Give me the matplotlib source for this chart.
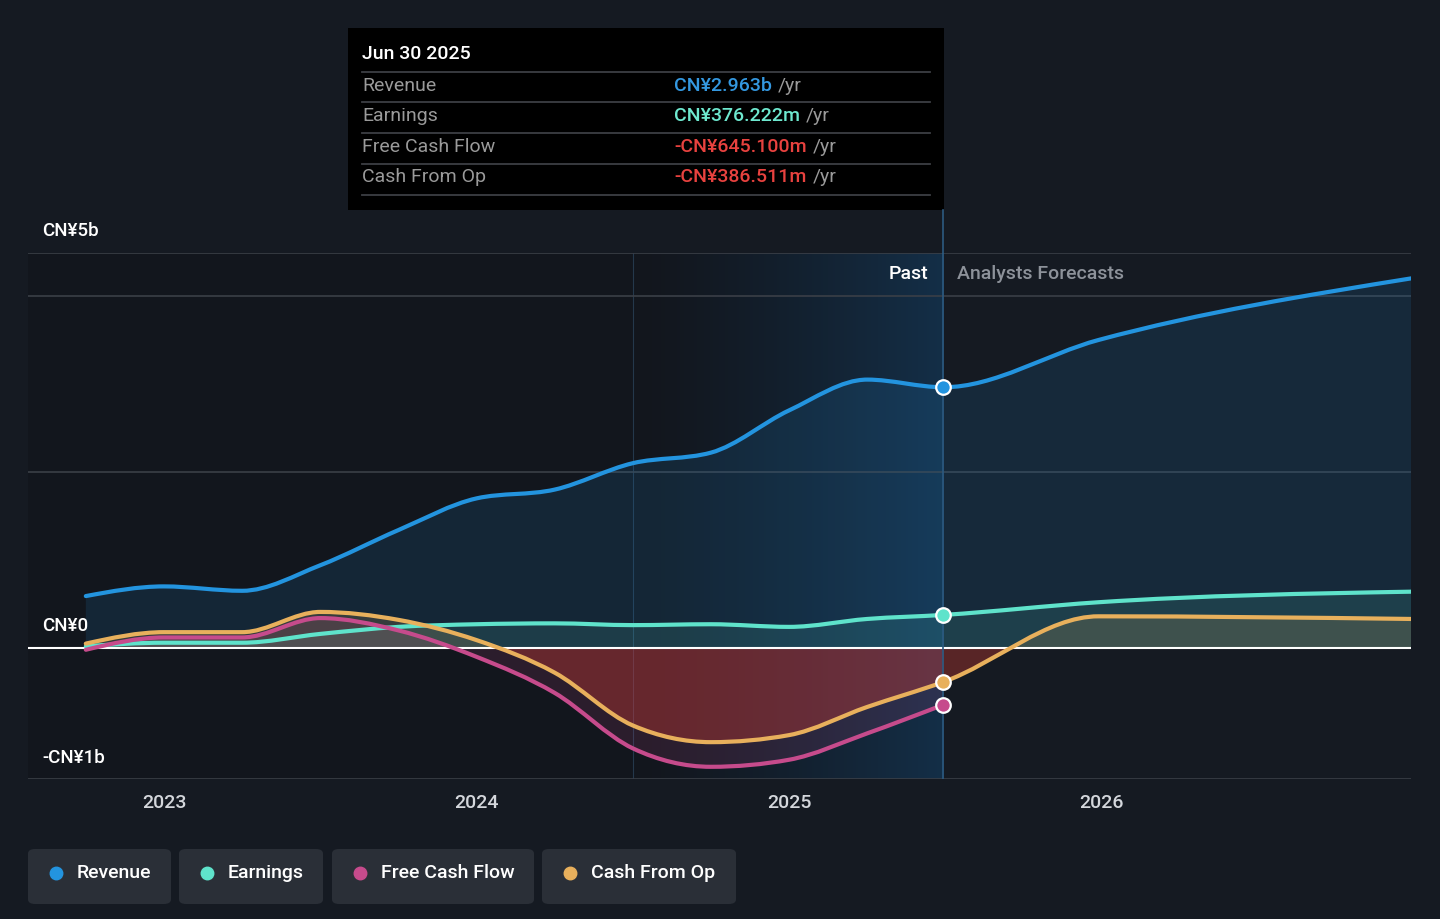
import numpy as np
import matplotlib
matplotlib.use("Agg")
import matplotlib.pyplot as plt
from matplotlib.path import Path
from matplotlib.patches import PathPatch, Rectangle, FancyBboxPatch

plt.rcParams['font.family'] = ['Roboto', 'DejaVu Sans']

# values in CN¥ billions, x in decimal years
past_x = [2022.75, 2023.0, 2023.25, 2023.5, 2023.75, 2024.0, 2024.25,
          2024.5, 2024.75, 2025.0, 2025.25, 2025.494]
revenue = [0.59, 0.70, 0.65, 0.94, 1.34, 1.70, 1.80, 2.10, 2.22, 2.70, 3.05, 2.963]
earnings = [0.02, 0.06, 0.06, 0.16, 0.24, 0.27, 0.28, 0.26, 0.27, 0.24, 0.33, 0.376]
fcf = [-0.02, 0.12, 0.12, 0.34, 0.20, -0.10, -0.51, -1.14, -1.35, -1.27, -0.97, -0.645]
cfo = [0.05, 0.18, 0.18, 0.41, 0.32, 0.09, -0.28, -0.88, -1.07, -0.99, -0.67, -0.386]

fc_x = [2025.494, 2025.99, 2026.99]
revenue_fc = [2.963, 3.50, 4.20]
earnings_fc = [0.376, 0.52, 0.64]
cfo_fc = [-0.386, 0.36, 0.33]

year_ticks = [2023, 2024, 2025, 2026]
legend_names = ["Revenue", "Earnings", "Free Cash Flow", "Cash From Op"]

BG = '#151a22'
C_REV = '#2394df'
C_EARN = '#5fe3cb'
C_FCF = '#c64b8c'
C_CFO = '#e8b05c'
NOW = past_x[-1]

W, H = 1440, 919
fig = plt.figure(figsize=(W / 100, H / 100), dpi=100, facecolor=BG)


def fx(px):
    return px / W


def fy(py):
    return 1 - py / H


ax = fig.add_axes([fx(28), fy(779), fx(1411) - fx(28), fy(253) - fy(779)])
ax.set_facecolor(BG)
x_left, x_right = 2022.565, 2026.99
y_top, y_bot = (648 - 253) / 88, (648 - 779) / 88
ax.set_xlim(x_left, x_right)
ax.set_ylim(y_bot, y_top)
for s in ax.spines.values():
    s.set_visible(False)
ax.set_yticks([])
ax.set_xticks(year_ticks)
ax.set_xticklabels([str(t) for t in year_ticks], color='#d4d7dc', fontsize=14, fontweight='medium')
ax.tick_params(axis='x', length=0, pad=11)


def smooth_path(xs, ys, base=None):
    xs = np.asarray(xs, float)
    ys = np.asarray(ys, float)
    n = len(xs)
    h = np.diff(xs)
    d = np.diff(ys) / h
    m = np.zeros(n)
    for i in range(1, n - 1):
        if d[i - 1] * d[i] > 0:
            p = (d[i - 1] * h[i] + d[i] * h[i - 1]) / (h[i - 1] + h[i])
            m[i] = (np.sign(d[i - 1]) + np.sign(d[i])) * min(abs(d[i - 1]), abs(d[i]), 0.5 * abs(p))
    m[0] = (3 * d[0] - m[1]) / 2 if n > 2 else d[0]
    m[-1] = (3 * d[-1] - m[-2]) / 2 if n > 2 else d[-1]
    verts = [(xs[0], ys[0])]
    codes = [Path.MOVETO]
    for i in range(n - 1):
        dx = h[i] / 3
        verts += [(xs[i] + dx, ys[i] + m[i] * dx),
                  (xs[i + 1] - dx, ys[i + 1] - m[i + 1] * dx),
                  (xs[i + 1], ys[i + 1])]
        codes += [Path.CURVE4] * 3
    if base is not None:
        verts += [(xs[-1], base), (xs[0], base), (xs[0], ys[0])]
        codes += [Path.LINETO, Path.LINETO, Path.CLOSEPOLY]
    return Path(verts, codes)


def clip_rect(y0, y1):
    return Rectangle((x_left, y0), x_right - x_left, y1 - y0, transform=ax.transData)


# past area slightly darker, highlighted last year with gradient
ax.axvspan(x_left, NOW, color='#0f1318', alpha=0.45, zorder=0, lw=0)
grad = np.zeros((2, 256, 4))
grad[..., 0], grad[..., 1], grad[..., 2] = 0.09, 0.30, 0.48
grad[..., 3] = np.linspace(0.0, 0.55, 256)[None, :] ** 1.3
ax.imshow(grad, extent=[2024.5, NOW, y_bot, y_top], aspect='auto', zorder=0.5,
          interpolation='bilinear')
ax.axvline(2024.5, color='#24384b', lw=0.8, zorder=0.6)

# gridlines
for gy in [2.0, 4.0, y_top - 0.005, y_bot + 0.005]:
    ax.axhline(gy, color='#3a3f47', lw=1.2, zorder=1)

all_x = past_x + fc_x[1:]
rev_all = revenue + revenue_fc[1:]
earn_all = earnings + earnings_fc[1:]
cfo_all = cfo + cfo_fc[1:]

# area fills
ax.add_patch(PathPatch(smooth_path(all_x, rev_all, 0), fc=C_REV, alpha=0.13, lw=0, zorder=2))
ax.add_patch(PathPatch(smooth_path(all_x, earn_all, 0), fc=C_EARN, alpha=0.12, lw=0, zorder=2))
p = PathPatch(smooth_path(past_x, fcf, 0), fc=C_FCF, alpha=0.14, lw=0, zorder=2)
ax.add_patch(p)
p_neg = PathPatch(smooth_path(all_x, cfo_all, 0), fc='#d63a2f', alpha=0.35, lw=0, zorder=2)
ax.add_patch(p_neg)
p_neg.set_clip_path(clip_rect(y_bot, 0))
p_pos = PathPatch(smooth_path(all_x, cfo_all, 0), fc=C_CFO, alpha=0.16, lw=0, zorder=2)
ax.add_patch(p_pos)
p_pos.set_clip_path(clip_rect(0, y_top))

ax.axhline(0, color='#ffffff', lw=1.5, zorder=3)

# lines
for xs, ys, c in [(all_x, earn_all, C_EARN), (past_x, fcf, C_FCF),
                  (all_x, cfo_all, C_CFO), (all_x, rev_all, C_REV)]:
    ax.add_patch(PathPatch(smooth_path(xs, ys), fc='none', ec=c, lw=3, zorder=4,
                           capstyle='round', joinstyle='round'))

ax.axvline(NOW, color='#2c5a80', lw=1.2, zorder=3.5)
for v, c in [(revenue[-1], C_REV), (earnings[-1], C_EARN), (fcf[-1], C_FCF), (cfo[-1], C_CFO)]:
    ax.scatter([NOW], [v], s=110, color=c, edgecolor='white', linewidth=1.6, zorder=6)

# vertical line up to tooltip
fig.add_artist(plt.Line2D([fx(943), fx(943)], [fy(253), fy(210)], color='#2c5a80', lw=1.2))

# section labels
fig.text(fx(928), fy(274), "Past", color='#ffffff', fontsize=14, fontweight='medium',
         ha='right', va='center')
fig.text(fx(957), fy(274), "Analysts Forecasts", color='#8d929a', fontsize=14,
         fontweight='medium', ha='left', va='center')

# y labels
fig.text(fx(42), fy(231), "CN¥5b", color='#ffffff', fontsize=13.5, fontweight='medium', va='center')
fig.text(fx(42), fy(626), "CN¥0", color='#ffffff', fontsize=13.5, fontweight='medium', va='center')
fig.text(fx(42), fy(758), "-CN¥1b", color='#ffffff', fontsize=13.5, fontweight='medium', va='center')

# tooltip
fig.add_artist(Rectangle((fx(348), fy(210)), fx(944) - fx(348), fy(28) - fy(210),
                         transform=fig.transFigure, fc='#000000', ec='none'))
fig.text(fx(362), fy(54), "Jun 30 2025", color='#ffffff', fontsize=14, fontweight='medium',
         va='center')
for ly in [72, 102, 133, 164, 195]:
    fig.add_artist(plt.Line2D([fx(362), fx(930)], [fy(ly), fy(ly)], color='#3c3f44', lw=1.3))
rows = [("Revenue", "CN¥2.963b", '#3498e0'),
        ("Earnings", "CN¥376.222m", '#6ee8cf'),
        ("Free Cash Flow", "-CN¥645.100m", '#e8423f'),
        ("Cash From Op", "-CN¥386.511m", '#e8423f')]
for (lab, val, c), ry in zip(rows, [86, 116, 147, 177]):
    fig.text(fx(362), fy(ry), lab, color='#9a9a9a', fontsize=14, va='center')
    t = fig.text(fx(674), fy(ry), val, color=c, fontsize=14, fontweight='medium', va='center')
    fig.canvas.draw()
    bb = t.get_window_extent()
    fig.text(bb.x1 / W + fx(6), fy(ry), "/yr", color='#9a9a9a', fontsize=14, va='center')

# legend boxes
boxes = [(28, 171), (179, 323), (332, 534), (542, 736)]
for (x0, x1), name, c in zip(boxes, legend_names, [C_REV, C_EARN, C_FCF, C_CFO]):
    fig.add_artist(FancyBboxPatch((fx(x0), fy(904)), fx(x1) - fx(x0), fy(849) - fy(904),
                                  boxstyle="round,pad=0,rounding_size=0.005",
                                  transform=fig.transFigure, fc='#2a2f37', ec='none'))
    fig.add_artist(plt.Line2D([fx(x0 + 28)], [fy(873)], marker='o', ms=9, color=c, mec=c))
    fig.text(fx(x0 + 49), fy(873), name, color='#ffffff', fontsize=14, fontweight='medium',
             va='center')

fig.savefig("out.png", dpi=100, facecolor=BG)
